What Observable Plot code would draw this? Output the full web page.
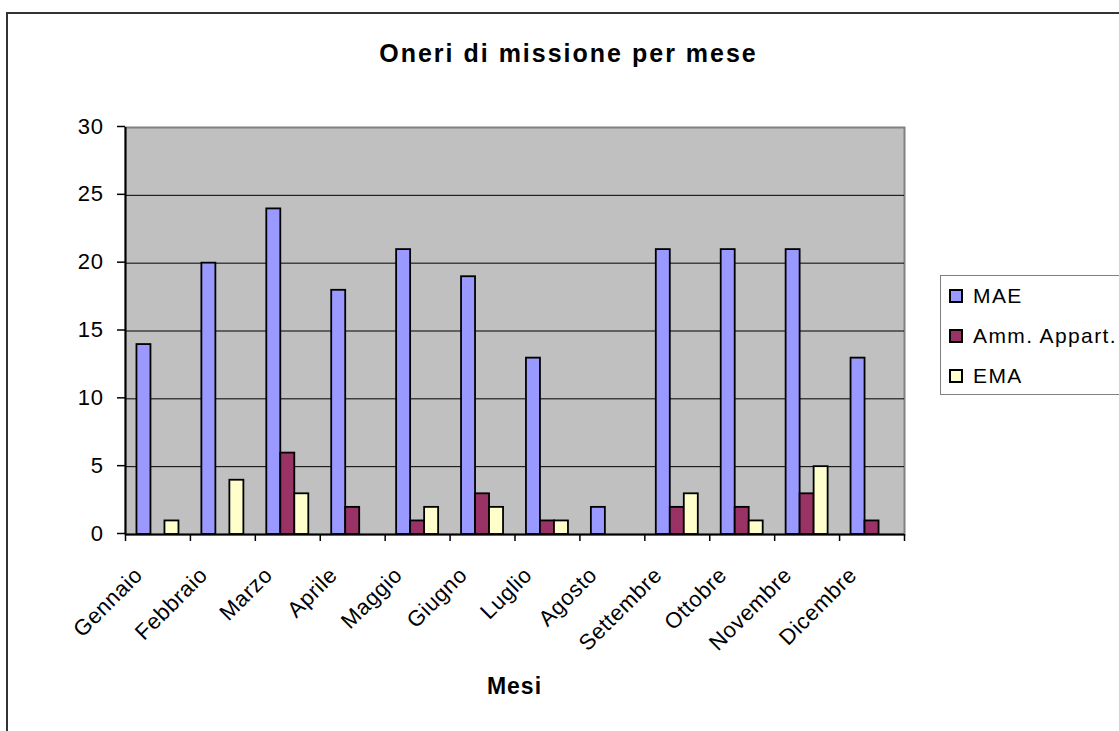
<!DOCTYPE html>
<html>
<head>
<meta charset="utf-8">
<script src="https://cdn.jsdelivr.net/npm/d3@7"></script>
<script src="https://cdn.jsdelivr.net/npm/@observablehq/plot@0.6"></script>
<style>
  html, body { margin: 0; padding: 0; background: #fff; overflow: hidden; }
  #wrap { position: relative; width: 1119px; height: 731px; overflow: hidden;
          font-family: Arial, "Liberation Sans", sans-serif; color: #000; }
  #border { position: absolute; left: 6px; top: 12px; width: 1200px; height: 800px;
            border: 2px solid #333; }
  #chart { position: absolute; left: 0; top: 0; }
  #title { position: absolute; left: 0; width: 1137px; top: 41px; text-align: center;
           font-weight: bold; font-size: 25px; line-height: 1; letter-spacing: 2px; }
  #xtitle { position: absolute; left: 0; width: 1029px; top: 675px; text-align: center;
            font-weight: bold; font-size: 23px; line-height: 1; letter-spacing: 1px; }
  #legend { position: absolute; left: 940px; top: 275px; width: 200px; height: 120px;
            border: 1.5px solid #808080; box-sizing: border-box; background: #fff; }
  .item { height: 40px; display: flex; align-items: center; }
  .sw { width: 14px; height: 14px; box-sizing: border-box; border: 2px solid #000;
        margin-left: 8px; margin-right: 10px; }
  .lab { font-size: 21px; letter-spacing: 1.4px; white-space: nowrap; }
  #chart svg text { letter-spacing: 0.6px; }
</style>
</head>
<body>
<div id="wrap">
  <div id="border"></div>
  <div id="chart"></div>
  <div id="title"></div>
  <div id="xtitle"></div>
  <div id="legend"></div>
</div>
<script>
// ---- data ----
const titleText = "Oneri di missione per mese";
const xTitle = "Mesi";
const months = ["Gennaio", "Febbraio", "Marzo", "Aprile", "Maggio", "Giugno",
                "Luglio", "Agosto", "Settembre", "Ottobre", "Novembre", "Dicembre"];
const seriesNames = ["MAE", "Amm. Appart.", "EMA"];
const MAE = [14, 20, 24, 18, 21, 19, 13, 2, 21, 21, 21, 13];
const AMM = [0, 0, 6, 2, 1, 3, 1, 0, 2, 2, 3, 1];
const EMA = [1, 4, 3, 0, 2, 2, 1, 0, 3, 1, 5, 0];
const colors = ["#9999FF", "#993366", "#FFFFCC"];
const yTicks = [0, 5, 10, 15, 20, 25, 30];

// ---- layout ----
const W = 1119, H = 731;
const mL = 125, mR = W - 904, mT = 127, mB = H - 534;
const bw = (W - mL - mR) / months.length;   // band width
const barW = 14;
const groupStart = (bw - barW * seriesNames.length) / 2;

const seriesValues = [MAE, AMM, EMA];
const rows = months.map((m, i) => {
  const r = {month: m};
  seriesNames.forEach((s, k) => r[s] = seriesValues[k][i]);
  return r;
});

document.getElementById("title").textContent = titleText;
document.getElementById("xtitle").textContent = xTitle;

const barMarks = seriesNames.map((s, k) => {
  const insetLeft = groupStart + k * barW;
  const insetRight = bw - insetLeft - barW;
  return Plot.barY(rows.filter(r => r[s] > 0), {
    x: "month", y: s, fill: colors[k], stroke: "#000", strokeWidth: 1.8,
    insetLeft, insetRight
  });
});

const chart = Plot.plot({
  width: W, height: H,
  marginLeft: mL, marginRight: mR, marginTop: mT, marginBottom: mB,
  style: {fontFamily: "Arial, 'Liberation Sans', sans-serif", fontSize: "22px",
          color: "#000", background: "transparent", overflow: "visible"},
  x: {type: "band", domain: months, padding: 0, round: false, axis: null},
  y: {domain: [0, 30], axis: null},
  marks: [
    Plot.frame({fill: "#c0c0c0", stroke: "#808080", strokeWidth: 2}),
    Plot.ruleY(yTicks.filter(t => t > 0 && t < 30), {stroke: "#000", strokeWidth: 1}),
    ...barMarks,
    Plot.ruleY([0], {stroke: "#000", strokeWidth: 2}),
    Plot.ruleX([months[0]], {stroke: "#000", strokeWidth: 2, dx: -bw / 2}),
    Plot.axisY({ticks: yTicks, tickSize: 8, tickPadding: 14, fontSize: 22,
                strokeWidth: 1.5, label: null, dy: -1}),
    Plot.axisX({tickSize: 7, fill: "none", strokeWidth: 1.5, dx: -bw / 2, label: null}),
    Plot.axisX({ticks: [months[months.length - 1]], tickSize: 7, fill: "none",
                strokeWidth: 1.5, dx: bw / 2, label: null}),
    Plot.axisX({tickSize: 0, tickPadding: 3, tickRotate: -45, fontSize: 22,
                dx: -19, dy: 34, label: null})
  ]
});
document.getElementById("chart").appendChild(chart);

// legend
const leg = document.getElementById("legend");
seriesNames.forEach((s, k) => {
  const it = document.createElement("div");
  it.className = "item";
  const sw = document.createElement("div");
  sw.className = "sw";
  sw.style.background = colors[k];
  const lab = document.createElement("span");
  lab.className = "lab";
  lab.textContent = s;
  it.appendChild(sw); it.appendChild(lab);
  leg.appendChild(it);
});
</script>
</body>
</html>
